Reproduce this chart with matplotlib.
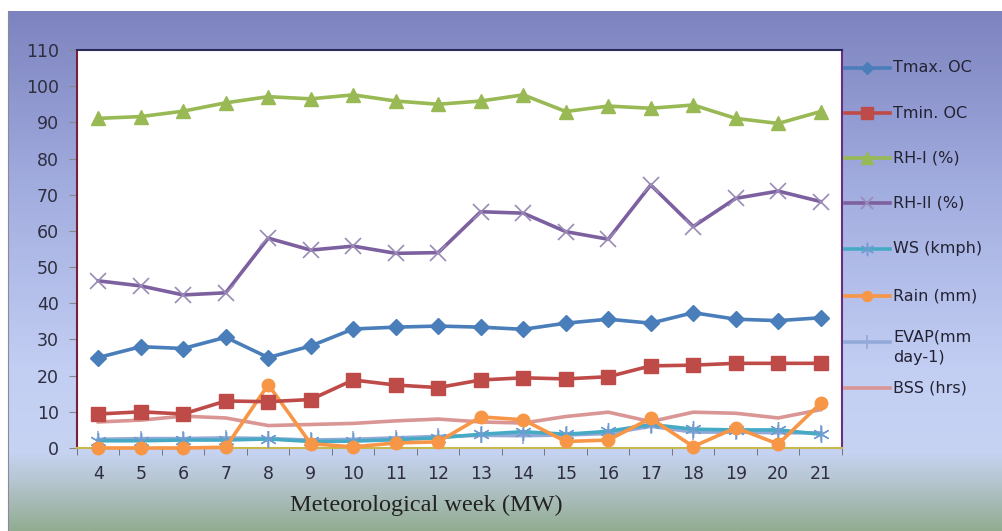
import numpy as np
import matplotlib
matplotlib.use("Agg")
import matplotlib.pyplot as plt
from matplotlib.colors import LinearSegmentedColormap
from matplotlib.lines import Line2D

# weekly weather data, meteorological weeks 4-21
weeks = [4, 5, 6, 7, 8, 9, 10, 11, 12, 13, 14, 15, 16, 17, 18, 19, 20, 21]
tmax = [25.0, 28.0, 27.5, 30.6, 25.0, 28.2, 32.9, 33.4, 33.7, 33.4, 32.8, 34.5, 35.6, 34.5, 37.4, 35.6, 35.2, 36.0]
tmin = [9.4, 10.0, 9.4, 13.0, 12.8, 13.4, 18.8, 17.4, 16.7, 18.8, 19.4, 19.1, 19.7, 22.7, 22.9, 23.4, 23.4, 23.4]
rh1 = [91.1, 91.6, 93.1, 95.4, 97.1, 96.5, 97.6, 95.9, 95.0, 95.9, 97.6, 93.0, 94.5, 93.9, 94.8, 91.1, 89.7, 93.0]
rh2 = [46.2, 44.8, 42.3, 42.9, 58.0, 54.7, 55.8, 53.8, 54.0, 65.3, 64.9, 59.8, 57.7, 72.7, 61.2, 69.0, 71.0, 68.1]
ws = [2.0, 2.0, 2.2, 2.2, 2.5, 1.8, 1.9, 2.3, 2.8, 3.8, 4.5, 3.8, 4.6, 6.5, 5.2, 5.0, 5.0, 3.8]
rain = [0.0, 0.0, 0.0, 0.2, 17.5, 1.2, 0.3, 1.4, 1.7, 8.6, 7.8, 1.8, 2.2, 8.2, 0.4, 5.6, 1.1, 12.4]
evap = [2.4, 2.6, 2.6, 2.8, 2.6, 2.2, 2.4, 2.8, 3.2, 3.5, 3.4, 3.6, 4.0, 6.0, 4.4, 4.4, 4.2, 4.2]
bss = [7.2, 7.7, 8.8, 8.3, 6.2, 6.5, 6.8, 7.5, 8.0, 7.2, 6.9, 8.7, 9.9, 7.3, 9.9, 9.6, 8.3, 10.6]

labels = ["Tmax. OC", "Tmin. OC", "RH-I (%)", "RH-II (%)", "WS (kmph)",
          "Rain (mm)", "EVAP(mm\nday-1)", "BSS (hrs)"]

W, H = 1003, 531
fig = plt.figure(figsize=(W / 100, H / 100), dpi=100)
fig.patch.set_facecolor("white")

# shaded backdrop
bg = fig.add_axes([8 / W, 0, (W - 9) / W, (H - 11) / H], zorder=0)
cmap = LinearSegmentedColormap.from_list("bg", [
    (0.0, "#7d83bf"), (0.35, "#a3aee0"), (0.7, "#c3cff3"),
    (0.85, "#c6d3f2"), (0.9, "#b8c7d4"), (1.0, "#92ac92")])
grad = np.linspace(0, 1, 256).reshape(-1, 1)
bg.imshow(grad, aspect="auto", cmap=cmap, extent=[0, 1, 0, 1], origin="upper")
bg.set_xticks([])
bg.set_yticks([])
for s in ["top", "right", "bottom"]:
    bg.spines[s].set_visible(False)
bg.spines["left"].set_color("#8a8a9a")

ax = fig.add_axes([77 / W, 1 - 448 / H, 765 / W, 398 / H], zorder=2)
ax.set_facecolor("white")
x = np.arange(len(weeks))

styles = [
    (tmax, "#4a7ebb", "D", 8, {}),
    (tmin, "#be4b48", "s", 10, {}),
    (rh1, "#98b954", "^", 10, {}),
    (rh2, "#7d60a0", "x", 11, {"markeredgewidth": 1.2, "markeredgecolor": "#9a8ab8"}),
    (ws, "#46aac5", (6, 2, 0), 12, {"markeredgewidth": 1.0, "markeredgecolor": "#6c9cd0"}),
    (rain, "#f79646", "o", 9, {}),
    (evap, "#93a9d8", "|", 12, {"markeredgewidth": 1.2}),
    (bss, "#d99694", None, 0, {}),
]

handles = []
for (vals, col, mk, ms, extra), lab in zip(styles, labels):
    ln, = ax.plot(x, vals, color=col, lw=2.6, marker=mk, markersize=ms,
                  clip_on=False, label=lab, **extra)
    handles.append(ln)

# draw order: pale lines behind, temperature/humidity on top
for ln, z in zip(handles, [6, 6, 6, 6, 4, 5, 3, 2]):
    ln.set_zorder(z)

ax.set_xlim(-0.5, len(weeks) - 0.5)
ax.set_ylim(0, 110)
ax.set_yticks(range(0, 111, 10))
ax.set_xticks(x)
ax.set_xticklabels([str(w) for w in weeks])
ax.set_xticks(np.arange(-0.5, len(weeks), 1), minor=True)
ax.tick_params(axis="x", which="major", length=0, pad=12, labelsize=12.5, labelcolor="#2e2e40")
ax.tick_params(axis="x", which="minor", length=5, color="#666666", direction="out")
ax.tick_params(axis="y", length=6, color="#888888", pad=7, labelsize=12.5, labelcolor="#2e2e40")

ax.spines["left"].set_color("#7a1f3a")
ax.spines["top"].set_color("#2b2b5a")
ax.spines["right"].set_color("#6b2c85")
ax.spines["bottom"].set_color("#c9b84a")
for s in ax.spines.values():
    s.set_linewidth(1.5)

fig.text(426 / W, 1 - 505 / H, "Meteorological week (MW)", ha="center", va="center",
         family="Liberation Serif", fontsize=17.5, color="#222222")

# legend, one row per series down the right margin
row_y = [68, 113, 158, 203, 249, 296, 342, 388]
for ln, lab, ry in zip(handles, labels, row_y):
    yf = 1 - ry / H
    h = Line2D([845 / W, 890 / W], [yf, yf], transform=fig.transFigure,
               color=ln.get_color(), lw=2.6)
    fig.add_artist(h)
    if ln.get_marker() not in (None, "None", ""):
        m = Line2D([867.5 / W], [yf], transform=fig.transFigure,
                   color=ln.get_color(), marker=ln.get_marker(),
                   markersize=ln.get_markersize() * 0.8,
                   markeredgecolor=ln.get_markeredgecolor(),
                   markeredgewidth=ln.get_markeredgewidth(), lw=0)
        fig.add_artist(m)
    if "\n" in lab:
        fig.text(893 / W, 1 - (ry - 12) / H, lab, ha="left", va="top",
                 fontsize=11.5, color="#222233", linespacing=1.45)
    else:
        fig.text(893 / W, yf, lab, ha="left", va="center",
                 fontsize=11.5, color="#222233")

fig.savefig("out.png", dpi=100)
